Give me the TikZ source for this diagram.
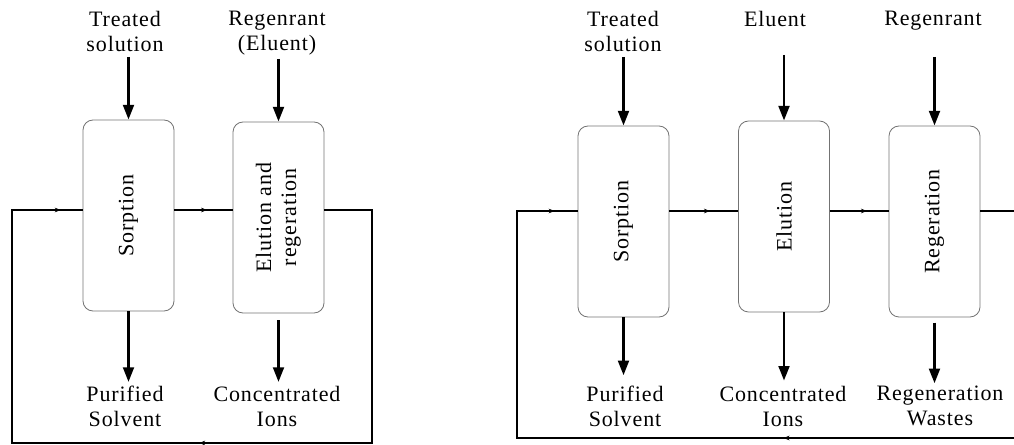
\documentclass[tikz,border=0pt]{standalone}
\usepackage{fontspec}
\setmainfont[LetterSpace=4]{Liberation Serif}
\usepackage{graphicx}
\usetikzlibrary{arrows.meta,decorations.markings}

\tikzset{
  unitbox/.style={draw=black!55, line width=0.6pt, rounded corners=7.5pt,
    minimum width=68.25pt, minimum height=143.25pt, inner sep=0pt},
  lbl/.style={align=center, inner sep=0pt, anchor=north},
  flow/.style={line width=2.1pt, -{Triangle[length=11pt,width=8pt]}},
  cycleline/.style={line width=2.1pt, line join=miter},
  tipmark/.style={postaction={decorate, decoration={markings,
    mark=at position #1 with {\arrow[line width=0.5pt]{Stealth[length=4.5pt,width=3.5pt]}}}}},
}

\begin{document}
\begin{tikzpicture}[x=0.75pt,y=0.75pt,yscale=-1,xscale=1,font=\fontsize{16.5}{18.75}\selectfont]
\useasboundingbox (0,0) rectangle (1014,445);
\clip (0,0) rectangle (1014,445);

% rows for the feed arrows
\coordinate (top) at (0,57);

%%%%%%%%%%%%%%%% left scheme

% Rounded Rect
\node [unitbox] (sorp1) at (128.5,215.5) {\rotatebox{90}{Sorption}};
% Rounded Rect
\node [unitbox] (elu1) at (278.5,217.5) {\rotatebox{90}{\begin{tabular}{@{}c@{}}Elution and\\regeration\end{tabular}}};

% Text Node
\node [lbl] (ts1) at (125,11) {Treated\\solution};
% Text Node
\node [lbl] (re1) at (277,11) {Regenrant\\(Eluent)};
% Text Node
\node [lbl] (ps1) at (125,386) {Purified\\Solvent};
% Text Node
\node [lbl] (ci1) at (277,386) {Concentrated\\Ions};

% loop corners
\coordinate (lp1) at (12,210);
\coordinate (lp2) at (372,210);
\coordinate (lp3) at (372,443);
\coordinate (lp4) at (12,443);

%Straight Lines
\draw [cycleline] (elu1.east |- lp1) -- (lp2) -- (lp3) -- (lp4) -- (lp1) -- (sorp1.west |- lp1);
\draw [cycleline] (sorp1.east |- lp1) -- (elu1.west |- lp1);
\path [tipmark=0.69] (lp1) -- (sorp1.west |- lp1);
\path [tipmark=0.56] (sorp1.east |- lp1) -- (elu1.west |- lp1);
\path [tipmark=0.48] (lp3) -- (lp4);

%Straight Lines
\draw [flow] (sorp1.north |- top) -- (sorp1.north);
\draw [flow] (elu1.north |- top) ++(0,2) -- (elu1.north);
\draw [flow, shorten >=3pt] (sorp1.south) -- (sorp1.south |- ps1.north);
\draw [flow, shorten <=5pt, shorten >=3pt] (elu1.south) -- (elu1.south |- ci1.north);

%%%%%%%%%%%%%%%% right scheme

% Rounded Rect
\node [unitbox] (sorp2) at (623.5,221.5) {\rotatebox{90}{Sorption}};
% Rounded Rect
\node [unitbox] (elu2) at (784,216.5) {\rotatebox{90}{Elution}};
% Rounded Rect
\node [unitbox] (reg2) at (934.5,221.5) {\rotatebox{90}{Regeration}};

% Text Node
\node [lbl] (ts2) at (623,11) {Treated\\solution};
% Text Node
\node [lbl] (el2) at (775,11) {Eluent};
% Text Node
\node [lbl] (re2) at (933,11) {Regenrant};
% Text Node
\node [lbl] (ps2) at (625,386) {Purified\\Solvent};
% Text Node
\node [lbl] (ci2) at (783,386) {Concentrated\\Ions};
% Text Node
\node [lbl] (rw2) at (940,386) {Regeneration\\Wastes};

% loop corners
\coordinate (lq1) at (517,211);
\coordinate (lq2) at (1020,211);
\coordinate (lq3) at (1020,438);
\coordinate (lq4) at (517,438);

%Straight Lines
\draw [cycleline] (reg2.east |- lq1) -- (lq2) -- (lq3) -- (lq4) -- (lq1) -- (sorp2.west |- lq1);
\draw [cycleline] (sorp2.east |- lq1) -- (elu2.west |- lq1);
\draw [cycleline] (elu2.east |- lq1) -- (reg2.west |- lq1);
\path [tipmark=0.62] (lq1) -- (sorp2.west |- lq1);
\path [tipmark=0.59] (sorp2.east |- lq1) -- (elu2.west |- lq1);
\path [tipmark=0.63] (elu2.east |- lq1) -- (reg2.west |- lq1);
\path [tipmark=0.47] (lq3) -- (lq4);

%Straight Lines
\draw [flow] (sorp2.north |- top) -- (sorp2.north);
\draw [flow] (elu2.north |- top) ++(0,-2) -- (elu2.north);
\draw [flow] (reg2.north |- top) -- (reg2.north);
\draw [flow, shorten >=8pt] (sorp2.south) -- (sorp2.south |- ps2.north);
\draw [flow, shorten >=4pt] (elu2.south) -- (elu2.south |- ci2.north);
\draw [flow, shorten <=4pt, shorten >=2pt] (reg2.south) -- (reg2.south |- rw2.north);

\end{tikzpicture}
\end{document}
